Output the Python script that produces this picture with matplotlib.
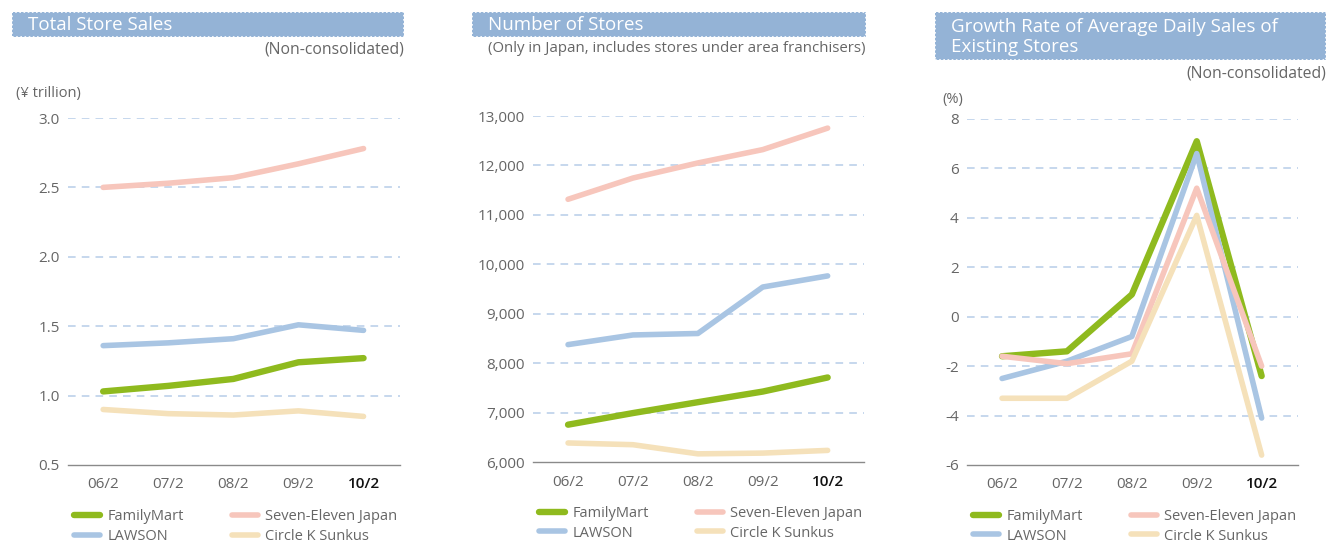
import matplotlib.pyplot as plt
from matplotlib.patches import Rectangle

plt.rcParams['font.family'] = ['Open Sans', 'DejaVu Sans']

periods = ['06/2', '07/2', '08/2', '09/2', '10/2']
names = ['FamilyMart', 'LAWSON', 'Seven-Eleven Japan', 'Circle K Sunkus']

# Total store sales (¥ trillion)
sales_fm = [1.03, 1.07, 1.12, 1.24, 1.27]
sales_law = [1.36, 1.38, 1.41, 1.51, 1.47]
sales_sej = [2.50, 2.53, 2.57, 2.67, 2.78]
sales_ck = [0.90, 0.87, 0.86, 0.89, 0.85]

# Number of stores
stores_fm = [6755, 6990, 7210, 7425, 7710]
stores_law = [8375, 8570, 8600, 9540, 9765]
stores_sej = [11315, 11745, 12050, 12320, 12755]
stores_ck = [6385, 6350, 6165, 6180, 6235]

# Growth rate of avg daily sales of existing stores (%)
growth_fm = [-1.6, -1.4, 0.9, 7.1, -2.4]
growth_law = [-2.5, -1.8, -0.8, 6.6, -4.1]
growth_sej = [-1.6, -1.9, -1.5, 5.2, -2.0]
growth_ck = [-3.3, -3.3, -1.8, 4.1, -5.6]

colors = ['#8fba1e', '#a9c5e3', '#f7c6bc', '#f5e1ba']
widths = [4.6, 4.0, 4.0, 4.0]
grey = '#666666'

fig = plt.figure(figsize=(13.27, 5.43), dpi=100)
W, H = 1327, 543


def px(x0, y0, x1, y1):
    return [x0 / W, 1 - y1 / H, (x1 - x0) / W, (y1 - y0) / H]


def panel(rect, series, yticks, ylabels, ylim, leg_y):
    ax = fig.add_axes(rect)
    for vals, c, lw, n in zip(series, colors, widths, names):
        ax.plot(range(len(periods)), vals, color=c, lw=lw, solid_capstyle='round',
                solid_joinstyle='round', label=n, clip_on=False)
    ax.set_xlim(-0.54, 4.56)
    ax.set_ylim(*ylim)
    ax.set_yticks(yticks)
    ax.set_yticklabels(ylabels)
    for t in yticks[1:]:
        ax.axhline(t, color='#b7cde8', lw=1.1, ls=(0, (5, 4)), zorder=0)
    ax.set_xticks(range(len(periods)))
    ax.set_xticklabels(periods)
    for s in ['top', 'right', 'left']:
        ax.spines[s].set_visible(False)
    ax.spines['bottom'].set_color('#8a8a8a')
    ax.spines['bottom'].set_linewidth(1.0)
    ax.tick_params(length=0, labelsize=11, colors=grey)
    ax.tick_params(axis='y', pad=6)
    ax.tick_params(axis='x', pad=9)
    lbls = ax.get_xticklabels()
    lbls[-1].set_color('#111111')
    lbls[-1].set_fontweight('semibold')
    leg = ax.legend(ncol=2, loc='upper left', bbox_to_anchor=(0.0, leg_y),
                    frameon=False, fontsize=10.5, handlelength=1.8,
                    handletextpad=0.5, columnspacing=3.3, labelspacing=0.32,
                    borderaxespad=0)
    for t in leg.get_texts():
        t.set_color(grey)
    return ax


def title_box(x0, x1, y0, y1, text):
    r = Rectangle((x0 / W, 1 - y1 / H), (x1 - x0) / W, (y1 - y0) / H,
                  transform=fig.transFigure, facecolor='#94b3d6',
                  edgecolor='white', lw=1.2, ls=(0, (1, 1.5)))
    fig.patches.append(r)
    fig.text((x0 + 16) / W, 1 - ((y0 + y1) / 2 + 1) / H, text, color='white',
             fontsize=13.5, va='center', ha='left', linespacing=1.2)


panel(px(68, 118, 400, 465), [sales_fm, sales_law, sales_sej, sales_ck],
      [0.5, 1.0, 1.5, 2.0, 2.5, 3.0], ['0.5', '1.0', '1.5', '2.0', '2.5', '3.0'],
      (0.5, 3.0), -0.11)
panel(px(533, 116, 864, 462), [stores_fm, stores_law, stores_sej, stores_ck],
      [6000, 7000, 8000, 9000, 10000, 11000, 12000, 13000],
      ['6,000', '7,000', '8,000', '9,000', '10,000', '11,000', '12,000', '13,000'],
      (6000, 13000), -0.11)
panel(px(967, 119, 1298, 465), [growth_fm, growth_law, growth_sej, growth_ck],
      [-6, -4, -2, 0, 2, 4, 6, 8], ['-6', '-4', '-2', '0', '2', '4', '6', '8'],
      (-6, 8), -0.11)

title_box(12, 404, 12, 37, 'Total Store Sales')
title_box(472, 866, 12, 37, 'Number of Stores')
title_box(935, 1326, 12, 60, 'Growth Rate of Average Daily Sales of\nExisting Stores')

fig.text(404 / W, 1 - 49 / H, '(Non-consolidated)', ha='right', va='center',
         fontsize=11.3, color=grey)
fig.text(866 / W, 1 - 49 / H, '(Only in Japan, includes stores under area franchisers)',
         ha='right', va='center', fontsize=10.8, color=grey)
fig.text(1326 / W, 1 - 73 / H, '(Non-consolidated)', ha='right', va='center',
         fontsize=11.3, color=grey)
fig.text(16 / W, 1 - 93 / H, '(¥ trillion)', ha='left', va='center',
         fontsize=10.5, color=grey)
fig.text(942 / W, 1 - 99 / H, '(%)', ha='left', va='center',
         fontsize=10.5, color=grey)

fig.savefig('out.png', dpi=100)
